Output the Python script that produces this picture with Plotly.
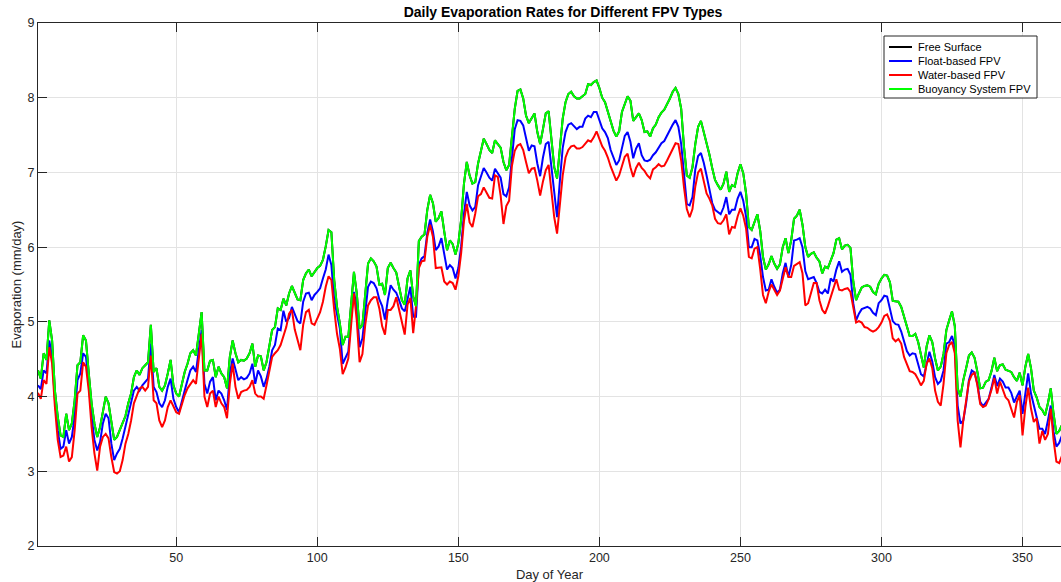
import plotly.graph_objects as go

days = list(range(1, 366))

free_surface = [
    4.35, 4.24, 4.58, 4.49, 5.02, 4.75, 4.08, 3.73, 3.48, 3.46,
    3.77, 3.55, 3.64, 3.95, 4.42, 4.46, 4.82, 4.75, 4.31, 3.91,
    3.64, 3.46, 3.59, 3.82, 4.00, 3.91, 3.64, 3.42, 3.46, 3.55,
    3.66, 3.74, 3.91, 4.04, 4.26, 4.35, 4.29, 4.38, 4.42, 4.46,
    4.96, 4.33, 4.38, 4.13, 4.08, 4.15, 4.31, 4.49, 4.15, 4.04,
    4.00, 4.17, 4.33, 4.44, 4.58, 4.62, 4.55, 4.84, 5.13, 4.35,
    4.35, 4.48, 4.49, 4.26, 4.40, 4.31, 4.26, 4.11, 4.53, 4.75,
    4.58, 4.46, 4.49, 4.48, 4.51, 4.58, 4.71, 4.40, 4.55, 4.54,
    4.35, 4.46, 4.67, 4.89, 4.93, 5.18, 5.16, 5.31, 5.22, 5.38,
    5.48, 5.40, 5.30, 5.29, 5.56, 5.65, 5.70, 5.61, 5.66, 5.72,
    5.75, 5.83, 6.01, 6.23, 6.20, 5.56, 5.20, 4.98, 4.69, 4.80,
    4.80, 5.20, 5.67, 5.38, 4.91, 4.96, 5.38, 5.78, 5.85, 5.81,
    5.74, 5.50, 5.51, 5.36, 5.72, 5.79, 5.72, 5.66, 5.47, 5.29,
    5.23, 5.58, 5.69, 5.34, 5.21, 6.08, 6.14, 6.17, 6.50, 6.70,
    6.59, 6.34, 6.39, 6.48, 6.21, 5.96, 6.09, 6.04, 5.90, 6.05,
    6.37, 6.85, 7.14, 6.96, 6.85, 6.87, 7.12, 7.30, 7.45, 7.38,
    7.30, 7.26, 7.43, 7.38, 7.33, 7.14, 7.03, 7.10, 7.47, 7.85,
    8.09, 8.11, 7.99, 7.76, 7.66, 7.72, 7.79, 7.54, 7.38, 7.58,
    7.79, 7.82, 7.47, 7.07, 6.92, 7.32, 7.72, 7.94, 8.05, 8.08,
    8.02, 7.99, 7.99, 8.02, 8.05, 8.18, 8.17, 8.21, 8.23, 8.13,
    8.00, 7.94, 7.81, 7.66, 7.56, 7.48, 7.55, 7.81, 7.93, 8.02,
    7.96, 7.69, 7.74, 7.79, 7.70, 7.54, 7.55, 7.48, 7.59, 7.64,
    7.74, 7.80, 7.84, 7.91, 7.99, 8.08, 8.13, 8.05, 7.85, 7.34,
    6.96, 6.93, 7.07, 7.38, 7.61, 7.69, 7.54, 7.41, 7.24, 7.06,
    6.90, 6.83, 6.77, 6.85, 7.01, 6.74, 6.83, 6.81, 6.99, 7.11,
    6.99, 6.72, 6.27, 6.23, 6.33, 6.44, 6.22, 5.87, 5.70, 5.77,
    5.88, 5.78, 5.71, 5.77, 6.00, 6.12, 5.92, 6.09, 6.38, 6.42,
    6.50, 6.30, 6.00, 5.87, 5.91, 5.93, 5.86, 5.81, 5.65, 5.74,
    5.72, 5.83, 5.92, 6.10, 6.12, 5.97, 6.02, 6.03, 5.99, 5.54,
    5.29, 5.38, 5.46, 5.48, 5.49, 5.47, 5.40, 5.37, 5.51, 5.58,
    5.63, 5.62, 5.53, 5.28, 5.27, 5.27, 5.20, 5.08, 4.94, 4.81,
    4.81, 4.84, 4.73, 4.55, 4.39, 4.67, 4.82, 4.73, 4.51, 4.35,
    4.40, 4.57, 4.89, 5.02, 5.14, 4.94, 4.11, 4.00, 4.22, 4.38,
    4.55, 4.59, 4.52, 4.33, 4.11, 4.12, 4.20, 4.22, 4.34, 4.52,
    4.34, 4.42, 4.43, 4.36, 4.35, 4.33, 4.26, 4.21, 4.32, 4.15,
    4.40, 4.57, 4.38, 4.08, 3.99, 3.86, 3.82, 3.75, 3.91, 4.11,
    3.77, 3.50, 3.54, 3.62, 3.70,
]

float_based = [
    4.15, 4.10, 4.35, 4.31, 4.75, 4.53, 3.95, 3.55, 3.30, 3.33,
    3.55, 3.37, 3.46, 3.73, 4.22, 4.31, 4.58, 4.53, 4.17, 3.73,
    3.42, 3.28, 3.39, 3.64, 3.77, 3.71, 3.37, 3.15, 3.24, 3.30,
    3.44, 3.59, 3.75, 3.91, 4.08, 4.13, 4.08, 4.15, 4.20, 4.24,
    4.71, 4.13, 4.06, 3.91, 3.86, 3.95, 4.13, 4.24, 3.97, 3.86,
    3.79, 3.95, 4.08, 4.22, 4.35, 4.40, 4.33, 4.62, 4.89, 4.17,
    4.04, 4.20, 4.26, 3.95, 4.08, 4.04, 3.95, 3.82, 4.31, 4.51,
    4.35, 4.22, 4.26, 4.23, 4.25, 4.31, 4.44, 4.17, 4.35, 4.27,
    4.13, 4.24, 4.40, 4.62, 4.69, 4.91, 4.89, 5.15, 5.00, 5.05,
    5.20, 5.11, 5.01, 4.98, 5.27, 5.38, 5.39, 5.29, 5.36, 5.40,
    5.45, 5.58, 5.70, 5.90, 5.76, 5.29, 5.09, 4.91, 4.44, 4.53,
    4.60, 5.07, 5.40, 5.20, 4.66, 4.78, 5.16, 5.47, 5.54, 5.52,
    5.45, 5.30, 5.21, 5.03, 5.29, 5.49, 5.43, 5.39, 5.29, 5.18,
    5.14, 5.32, 5.47, 5.07, 5.07, 5.76, 5.85, 5.88, 6.19, 6.37,
    6.21, 5.96, 6.01, 6.12, 5.90, 5.70, 5.76, 5.72, 5.58, 5.72,
    6.01, 6.45, 6.74, 6.56, 6.49, 6.54, 6.83, 6.95, 7.06, 7.00,
    6.93, 6.89, 7.05, 6.99, 6.93, 6.71, 6.68, 6.80, 7.23, 7.58,
    7.70, 7.69, 7.63, 7.45, 7.29, 7.36, 7.35, 7.12, 6.95, 7.20,
    7.38, 7.41, 7.07, 6.71, 6.40, 6.89, 7.33, 7.54, 7.64, 7.66,
    7.62, 7.58, 7.61, 7.61, 7.72, 7.76, 7.74, 7.81, 7.81, 7.70,
    7.59, 7.54, 7.46, 7.30, 7.21, 7.10, 7.16, 7.35, 7.49, 7.54,
    7.41, 7.19, 7.32, 7.39, 7.23, 7.16, 7.15, 7.17, 7.23, 7.27,
    7.33, 7.39, 7.42, 7.50, 7.56, 7.64, 7.70, 7.61, 7.38, 6.92,
    6.58, 6.56, 6.67, 7.04, 7.22, 7.26, 7.13, 6.96, 6.77, 6.59,
    6.50, 6.47, 6.44, 6.53, 6.67, 6.44, 6.50, 6.50, 6.65, 6.74,
    6.62, 6.41, 6.00, 6.00, 6.11, 6.09, 5.89, 5.60, 5.42, 5.43,
    5.57, 5.47, 5.39, 5.43, 5.65, 5.79, 5.60, 5.76, 6.09, 6.10,
    6.12, 6.00, 5.68, 5.57, 5.59, 5.60, 5.52, 5.40, 5.38, 5.43,
    5.38, 5.58, 5.54, 5.70, 5.81, 5.67, 5.70, 5.71, 5.63, 5.25,
    5.02, 5.11, 5.17, 5.19, 5.20, 5.18, 5.12, 5.09, 5.25, 5.29,
    5.35, 5.34, 5.19, 5.01, 4.97, 4.96, 4.87, 4.72, 4.61, 4.55,
    4.58, 4.57, 4.42, 4.30, 4.27, 4.43, 4.60, 4.47, 4.26, 4.17,
    4.21, 4.35, 4.71, 4.73, 4.81, 4.67, 3.88, 3.64, 3.68, 3.91,
    4.22, 4.35, 4.32, 4.17, 3.93, 3.87, 3.92, 3.97, 4.12, 4.29,
    4.14, 4.24, 4.20, 4.12, 4.12, 4.05, 3.92, 3.99, 4.08, 3.77,
    4.04, 4.31, 4.04, 3.87, 3.71, 3.57, 3.57, 3.50, 3.68, 3.88,
    3.53, 3.33, 3.38, 3.48, 3.55,
]

water_based = [
    4.05, 3.97, 4.22, 4.17, 4.66, 4.44, 3.86, 3.42, 3.19, 3.21,
    3.33, 3.13, 3.19, 3.55, 4.04, 4.08, 4.46, 4.40, 4.08, 3.59,
    3.24, 3.01, 3.33, 3.46, 3.50, 3.44, 3.19, 2.99, 2.97, 3.00,
    3.15, 3.37, 3.50, 3.68, 3.91, 4.02, 4.11, 4.13, 4.08, 4.13,
    4.55, 3.95, 3.91, 3.68, 3.59, 3.68, 3.86, 3.95, 3.86, 3.79,
    3.77, 3.91, 4.02, 4.11, 4.17, 4.22, 4.17, 4.53, 4.84, 4.00,
    3.86, 4.04, 4.08, 3.86, 4.00, 3.91, 3.86, 3.71, 4.17, 4.44,
    4.13, 3.97, 4.06, 4.08, 4.09, 4.13, 4.22, 4.04, 4.00, 4.00,
    3.97, 4.15, 4.35, 4.53, 4.58, 4.62, 4.69, 4.82, 4.93, 5.11,
    5.16, 4.90, 4.75, 4.62, 4.96, 5.13, 5.16, 4.98, 4.96, 5.04,
    5.13, 5.27, 5.47, 5.61, 5.56, 5.16, 4.84, 4.64, 4.30, 4.39,
    4.51, 4.96, 5.38, 5.02, 4.46, 4.57, 4.96, 5.22, 5.29, 5.33,
    5.33, 5.18, 4.94, 4.83, 5.16, 5.16, 5.21, 5.33, 5.16, 4.96,
    4.83, 5.23, 5.32, 4.85, 5.21, 5.72, 5.81, 5.82, 6.14, 6.30,
    6.14, 5.72, 5.72, 5.73, 5.54, 5.50, 5.54, 5.52, 5.43, 5.61,
    5.92, 6.35, 6.58, 6.33, 6.27, 6.45, 6.68, 6.71, 6.80, 6.72,
    6.66, 6.65, 6.96, 6.94, 6.69, 6.31, 6.55, 6.62, 7.09, 7.29,
    7.36, 7.38, 7.30, 7.14, 6.99, 7.05, 7.06, 6.89, 6.69, 6.88,
    7.03, 7.10, 6.76, 6.40, 6.18, 6.54, 6.96, 7.20, 7.30, 7.35,
    7.36, 7.32, 7.32, 7.34, 7.39, 7.43, 7.41, 7.47, 7.55, 7.45,
    7.35, 7.29, 7.20, 7.08, 6.98, 6.89, 6.96, 7.08, 7.21, 7.25,
    7.07, 6.94, 7.06, 7.13, 7.06, 7.02, 6.96, 6.92, 7.04, 7.07,
    7.11, 7.08, 7.09, 7.16, 7.23, 7.30, 7.39, 7.38, 7.16, 6.80,
    6.51, 6.40, 6.51, 6.81, 7.00, 7.05, 6.89, 6.72, 6.65, 6.56,
    6.38, 6.32, 6.31, 6.36, 6.44, 6.17, 6.27, 6.26, 6.41, 6.52,
    6.42, 6.25, 5.87, 5.85, 5.98, 6.00, 5.71, 5.36, 5.25, 5.40,
    5.50, 5.43, 5.36, 5.42, 5.56, 5.73, 5.60, 5.60, 5.75, 5.78,
    5.80, 5.65, 5.22, 5.25, 5.40, 5.52, 5.52, 5.29, 5.16, 5.11,
    5.21, 5.34, 5.47, 5.57, 5.43, 5.42, 5.44, 5.45, 5.40, 5.18,
    4.99, 5.01, 4.99, 4.93, 4.92, 4.89, 4.87, 4.89, 4.93, 4.99,
    5.08, 5.10, 5.01, 4.78, 4.74, 4.77, 4.71, 4.53, 4.42, 4.34,
    4.33, 4.30, 4.23, 4.15, 4.21, 4.44, 4.51, 4.38, 4.08, 3.93,
    3.88, 4.17, 4.58, 4.69, 4.73, 4.58, 3.68, 3.32, 3.68, 3.93,
    4.20, 4.29, 4.32, 4.15, 3.90, 3.86, 3.88, 3.97, 4.09, 4.25,
    4.04, 4.20, 4.08, 3.99, 3.95, 3.84, 3.72, 3.93, 4.02, 3.48,
    3.86, 4.12, 3.84, 3.66, 3.71, 3.37, 3.54, 3.42, 3.50, 3.84,
    3.42, 3.13, 3.11, 3.21, 3.25,
]

buoyancy_system = [
    4.35, 4.24, 4.58, 4.49, 5.02, 4.75, 4.08, 3.73, 3.48, 3.46,
    3.77, 3.55, 3.64, 3.95, 4.42, 4.46, 4.82, 4.75, 4.31, 3.91,
    3.64, 3.46, 3.59, 3.82, 4.00, 3.91, 3.64, 3.42, 3.46, 3.55,
    3.66, 3.74, 3.91, 4.04, 4.26, 4.35, 4.29, 4.38, 4.42, 4.46,
    4.96, 4.33, 4.38, 4.13, 4.08, 4.15, 4.31, 4.49, 4.15, 4.04,
    4.00, 4.17, 4.33, 4.44, 4.58, 4.62, 4.55, 4.84, 5.13, 4.35,
    4.35, 4.48, 4.49, 4.26, 4.40, 4.31, 4.26, 4.11, 4.53, 4.75,
    4.58, 4.46, 4.49, 4.48, 4.51, 4.58, 4.71, 4.40, 4.55, 4.54,
    4.35, 4.46, 4.67, 4.89, 4.93, 5.18, 5.16, 5.31, 5.22, 5.38,
    5.48, 5.40, 5.30, 5.29, 5.56, 5.65, 5.70, 5.61, 5.66, 5.72,
    5.75, 5.83, 6.01, 6.23, 6.20, 5.56, 5.20, 4.98, 4.69, 4.80,
    4.80, 5.20, 5.67, 5.38, 4.91, 4.96, 5.38, 5.78, 5.85, 5.81,
    5.74, 5.50, 5.51, 5.36, 5.72, 5.79, 5.72, 5.66, 5.47, 5.29,
    5.23, 5.58, 5.69, 5.34, 5.21, 6.08, 6.14, 6.17, 6.50, 6.70,
    6.59, 6.34, 6.39, 6.48, 6.21, 5.96, 6.09, 6.04, 5.90, 6.05,
    6.37, 6.85, 7.14, 6.96, 6.85, 6.87, 7.12, 7.30, 7.45, 7.38,
    7.30, 7.26, 7.43, 7.38, 7.33, 7.14, 7.03, 7.10, 7.47, 7.85,
    8.09, 8.11, 7.99, 7.76, 7.66, 7.72, 7.79, 7.54, 7.38, 7.58,
    7.79, 7.82, 7.47, 7.07, 6.92, 7.32, 7.72, 7.94, 8.05, 8.08,
    8.02, 7.99, 7.99, 8.02, 8.05, 8.18, 8.17, 8.21, 8.23, 8.13,
    8.00, 7.94, 7.81, 7.66, 7.56, 7.48, 7.55, 7.81, 7.93, 8.02,
    7.96, 7.69, 7.74, 7.79, 7.70, 7.54, 7.55, 7.48, 7.59, 7.64,
    7.74, 7.80, 7.84, 7.91, 7.99, 8.08, 8.13, 8.05, 7.85, 7.34,
    6.96, 6.93, 7.07, 7.38, 7.61, 7.69, 7.54, 7.41, 7.24, 7.06,
    6.90, 6.83, 6.77, 6.85, 7.01, 6.74, 6.83, 6.81, 6.99, 7.11,
    6.99, 6.72, 6.27, 6.23, 6.33, 6.44, 6.22, 5.87, 5.70, 5.77,
    5.88, 5.78, 5.71, 5.77, 6.00, 6.12, 5.92, 6.09, 6.38, 6.42,
    6.50, 6.30, 6.00, 5.87, 5.91, 5.93, 5.86, 5.81, 5.65, 5.74,
    5.72, 5.83, 5.92, 6.10, 6.12, 5.97, 6.02, 6.03, 5.99, 5.54,
    5.29, 5.38, 5.46, 5.48, 5.49, 5.47, 5.40, 5.37, 5.51, 5.58,
    5.63, 5.62, 5.53, 5.28, 5.27, 5.27, 5.20, 5.08, 4.94, 4.81,
    4.81, 4.84, 4.73, 4.55, 4.39, 4.67, 4.82, 4.73, 4.51, 4.35,
    4.40, 4.57, 4.89, 5.02, 5.14, 4.94, 4.11, 4.00, 4.22, 4.38,
    4.55, 4.59, 4.52, 4.33, 4.11, 4.12, 4.20, 4.22, 4.34, 4.52,
    4.34, 4.42, 4.43, 4.36, 4.35, 4.33, 4.26, 4.21, 4.32, 4.15,
    4.40, 4.57, 4.38, 4.08, 3.99, 3.86, 3.82, 3.75, 3.91, 4.11,
    3.77, 3.50, 3.54, 3.62, 3.70,
]

series_names = ["Free Surface", "Float-based FPV", "Water-based FPV", "Buoyancy System FPV"]
series_colors = ["#000000", "#0000ff", "#ff0000", "#00ff00"]
x_ticks = [50, 100, 150, 200, 250, 300, 350]
y_ticks = [2, 3, 4, 5, 6, 7, 8, 9]

FONT = "Liberation Sans, Arial, Helvetica, sans-serif"
AX = "#262626"
GRID = "#e3e3e3"

W, H = 1061, 582
L, R, T, B = 38, 0, 23, 36
PW, PH = W - L - R, H - T - B


def px_x(px):
    return (px - L) / PW


def px_y(py):
    return 1 - (py - T) / PH


fig = go.Figure()
for name, vals, color in zip(series_names,
                             [free_surface, float_based, water_based, buoyancy_system],
                             series_colors):
    fig.add_trace(go.Scatter(x=days, y=vals, mode="lines", name=name,
                             line=dict(color=color, width=2), showlegend=False))

# MATLAB-style legend box
shapes = [dict(type="rect", xref="paper", yref="paper",
               x0=px_x(884), x1=px_x(1037), y0=px_y(98), y1=px_y(36),
               fillcolor="white", line=dict(color=AX, width=1), layer="above")]
annotations = []
for i, (name, color) in enumerate(zip(series_names, series_colors)):
    yy = px_y(47 + 14 * i)
    shapes.append(dict(type="line", xref="paper", yref="paper",
                       x0=px_x(889), x1=px_x(912), y0=yy, y1=yy,
                       line=dict(color=color, width=2), layer="above"))
    annotations.append(dict(text=name, xref="paper", yref="paper",
                            x=px_x(916), y=yy, xanchor="left", yanchor="middle",
                            showarrow=False,
                            font=dict(family=FONT, size=11, color="#000000")))

fig.update_layout(
    width=W, height=H,
    margin=dict(l=L, r=R, t=T, b=B),
    paper_bgcolor="white", plot_bgcolor="white",
    font=dict(family=FONT, size=12, color=AX),
    title=dict(text="<b>Daily Evaporation Rates for Different FPV Types</b>",
               x=563 / W, xref="container", xanchor="center",
               y=1 - 12 / H, yref="container", yanchor="middle",
               font=dict(family=FONT, size=14, color="#000000")),
    showlegend=False,
    shapes=shapes,
    annotations=annotations,
)
fig.update_xaxes(range=[1, 1 + PW / 2.821], tickvals=x_ticks, showgrid=True, gridcolor=GRID,
                 zeroline=False, showline=True, linecolor=AX, linewidth=1, mirror="ticks",
                 ticks="inside", ticklen=9, tickcolor=AX,
                 title=dict(text="Day of Year", standoff=5, font=dict(size=13)),
                 tickfont=dict(size=12.5))
fig.update_yaxes(range=[2, 9], tickvals=y_ticks, showgrid=True, gridcolor=GRID,
                 zeroline=False, showline=True, linecolor=AX, linewidth=1,
                 ticks="inside", ticklen=9, tickcolor=AX,
                 title=dict(text="Evaporation (mm/day)", standoff=2, font=dict(size=13)),
                 tickfont=dict(size=12.5))

fig.write_html("out.html", config={"displayModeBar": False},
               post_script="document.body.style.margin='0';")
